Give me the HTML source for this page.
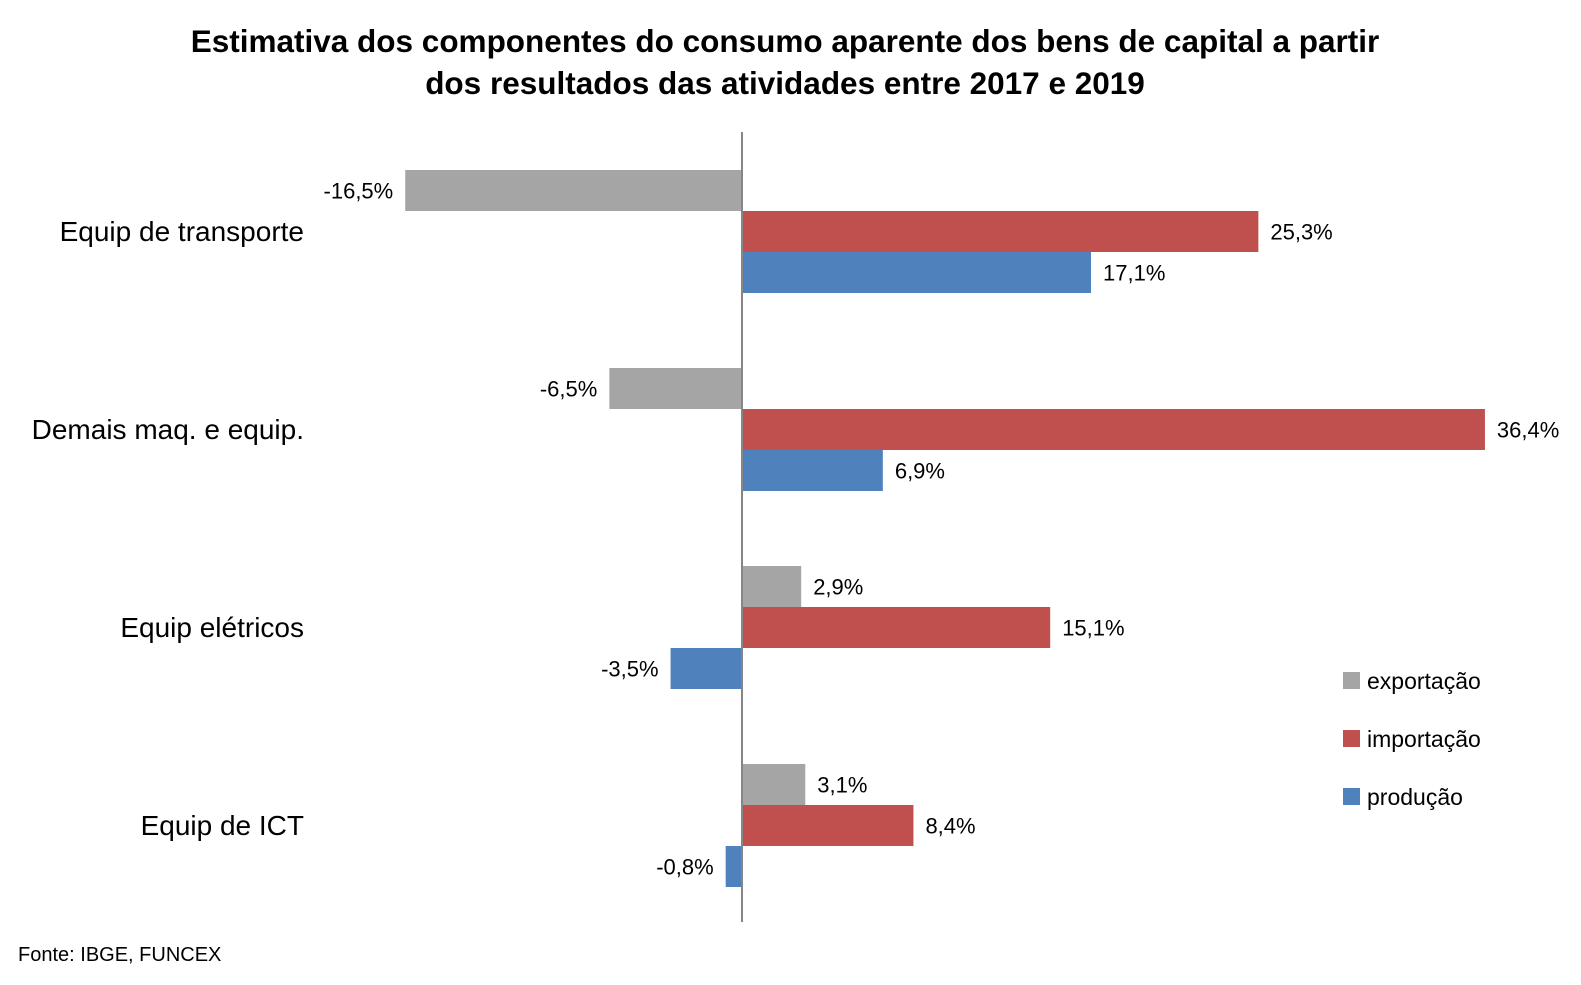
<!DOCTYPE html>
<html><head><meta charset="utf-8"><style>
body{margin:0;background:#fff;}
svg{display:block;font-family:"Liberation Sans",sans-serif;}
</style></head><body>
<svg id="chart" width="1581" height="985">
<text x="785" y="52" text-anchor="middle" font-size="31.5" font-weight="bold" fill="#000">Estimativa dos componentes do consumo aparente dos bens de capital a partir</text>
<text x="785" y="94" text-anchor="middle" font-size="31.5" font-weight="bold" fill="#000">dos resultados das atividades entre 2017 e 2019</text>
<g id="bars"></g>
<g id="legend">
<rect x="1343" y="672" width="17" height="17" fill="#a5a5a5"/>
<text x="1367" y="689" font-size="23" fill="#000">exportação</text>
<rect x="1343" y="730" width="17" height="17" fill="#c0504d"/>
<text x="1367" y="747" font-size="23" fill="#000">importação</text>
<rect x="1343" y="788" width="17" height="17" fill="#4f81bd"/>
<text x="1367" y="805" font-size="23" fill="#000">produção</text>
</g>
<text x="18" y="961" font-size="20" fill="#000">Fonte: IBGE, FUNCEX</text>
</svg>
<script>
const categories = ["Equip de transporte","Demais maq. e equip.","Equip elétricos","Equip de ICT"];
const exportacao = [-16.5,-6.5,2.9,3.1];
const importacao = [25.3,36.4,15.1,8.4];
const producao = [17.1,6.9,-3.5,-0.8];
const seriesNames = ["exportacao","importacao","producao"];
const seriesColors = ["#a5a5a5","#c0504d","#4f81bd"];

const NS="http://www.w3.org/2000/svg";
const g=document.getElementById('bars');
const x0=742, pxPer=20.41;
const xs=v=>x0+v*pxPer;
const catTop=i=>170+i*198;
const barH=41;
const fmt=v=>v.toFixed(1).replace('.',',')+'%';
function mk(tag,attrs){const e=document.createElementNS(NS,tag);for(const k in attrs)e.setAttribute(k,attrs[k]);g.appendChild(e);return e;}
const series=[exportacao,importacao,producao];
categories.forEach((c,i)=>{
  const t=mk('text',{x:304,y:catTop(i)+61+10,'text-anchor':'end','font-size':28,fill:'#000'});
  t.textContent=c;
  
  
  series.forEach((arr,s)=>{
    const v=arr[i];
    const y=catTop(i)+s*barH;
    const xa=Math.min(xs(0),xs(v)), w=Math.abs(xs(v)-xs(0));
    const r=mk('rect',{x:xa,y:y,width:w,height:barH,fill:seriesColors[s]});
    
    
    const lx=v>=0?xs(v)+12:xs(v)-12;
    const l=mk('text',{x:lx,y:y+barH/2+8,'text-anchor':v>=0?'start':'end','font-size':22,fill:'#000'});
    l.textContent=fmt(v);
    
    
  });
});
const ax=mk('line',{x1:x0,x2:x0,y1:132,y2:922,stroke:'#868686','stroke-width':2});


</script>
</body></html>
